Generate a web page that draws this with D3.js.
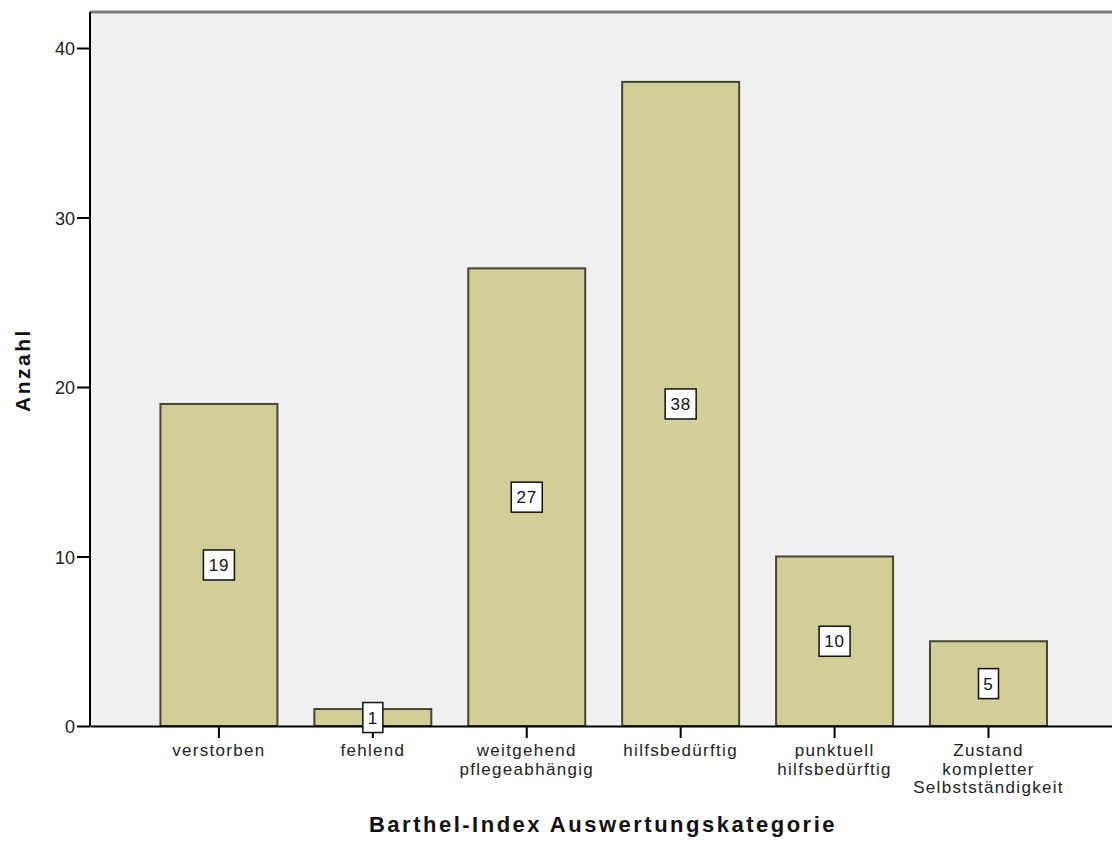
<!DOCTYPE html>
<html>
<head>
<meta charset="utf-8">
<script src="https://cdn.jsdelivr.net/npm/d3@7/dist/d3.min.js"></script>
<style>
  html, body { margin: 0; padding: 0; background: #fff; }
  text { font-family: Arial, "Liberation Sans", sans-serif; }
</style>
</head>
<body>
<svg id="chart" width="1112" height="841"></svg>
<script>
// Barthel-Index categories (line breaks as shown under the axis)
const categories = [
  ["verstorben"],
  ["fehlend"],
  ["weitgehend", "pflegeabhängig"],
  ["hilfsbedürftig"],
  ["punktuell", "hilfsbedürftig"],
  ["Zustand", "kompletter", "Selbstständigkeit"]
];
const counts = [19, 1, 27, 38, 10, 5];
const yTicks = [0, 10, 20, 30, 40];

const svg = d3.select("#chart");
const plot = { left: 90, right: 1112, top: 12, bottom: 726 };

const keys = categories.map(c => c.join(" "));

const x = d3.scaleBand()
  .domain(keys)
  .range([plot.left, plot.right])
  .paddingInner(0.24)
  .paddingOuter(0.44)
  .align(0.52);

const y = d3.scaleLinear()
  .domain([0, 40])
  .range([plot.bottom, 48]);

// plot background
svg.append("rect")
  .attr("x", plot.left).attr("y", plot.top)
  .attr("width", plot.right - plot.left).attr("height", plot.bottom - plot.top)
  .attr("fill", "#f0f0f0");

// top frame line
svg.append("line")
  .attr("x1", plot.left).attr("x2", plot.right)
  .attr("y1", plot.top).attr("y2", plot.top)
  .attr("stroke", "#7a7a7a").attr("stroke-width", 3);

// bars
svg.append("g").selectAll("rect")
  .data(counts)
  .join("rect")
  .attr("x", (d, i) => x(keys[i]))
  .attr("width", x.bandwidth())
  .attr("y", d => y(d))
  .attr("height", d => y(0) - y(d))
  .attr("fill", "#d3cd97")
  .attr("stroke", "#46452f")
  .attr("stroke-width", 2);

// y axis
const yAxis = svg.append("g")
  .attr("transform", `translate(${plot.left},0)`)
  .call(d3.axisLeft(y).tickValues(yTicks).tickSize(13).tickSizeOuter(0).tickPadding(2));
yAxis.select(".domain").attr("stroke", "#000").attr("stroke-width", 2)
  .attr("d", `M0,${plot.top}V${plot.bottom}`);
yAxis.selectAll(".tick line").attr("stroke", "#000").attr("stroke-width", 2);
yAxis.selectAll(".tick text")
  .attr("font-size", 18).attr("fill", "#222")
  .attr("dy", "0.38em")
  .attr("font-family", "Arial, 'Liberation Sans', sans-serif");

// x axis
const xAxis = svg.append("g")
  .attr("transform", `translate(0,${plot.bottom})`)
  .call(d3.axisBottom(x).tickSize(12).tickSizeOuter(0).tickFormat(""));
xAxis.select(".domain").attr("stroke", "#000").attr("stroke-width", 2);
xAxis.selectAll(".tick line").attr("stroke", "#000").attr("stroke-width", 2);

// multi-line category labels
const xl = svg.append("g");
categories.forEach((lines, i) => {
  const cx = x(keys[i]) + x.bandwidth() / 2;
  const t = xl.append("text")
    .attr("x", cx)
    .attr("y", 756)
    .attr("text-anchor", "middle")
    .attr("font-size", 17)
    .attr("letter-spacing", 1.3)
    .attr("fill", "#222");
  lines.forEach((ln, j) => {
    t.append("tspan")
      .attr("x", cx)
      .attr("dy", j === 0 ? 0 : 18.5)
      .text(ln);
  });
});

// value labels in boxes at mid-height of each bar
const lab = svg.append("g");
counts.forEach((v, i) => {
  const cx = x(keys[i]) + x.bandwidth() / 2;
  const cy = y(v / 2);
  const txt = String(v);
  const bw = txt.length === 1 ? 20 : 31;
  const bh = 30;
  lab.append("rect")
    .attr("x", cx - bw / 2).attr("y", cy - bh / 2)
    .attr("width", bw).attr("height", bh)
    .attr("fill", "#fff").attr("stroke", "#111").attr("stroke-width", 1.5);
  lab.append("text")
    .attr("x", cx).attr("y", cy + 6)
    .attr("text-anchor", "middle")
    .attr("font-size", 17)
    .attr("letter-spacing", 0.8)
    .attr("fill", "#111")
    .text(txt);
});

// axis titles
svg.append("text")
  .attr("x", 603)
  .attr("y", 832)
  .attr("text-anchor", "middle")
  .attr("font-size", 22).attr("font-weight", "bold")
  .attr("letter-spacing", 2.5)
  .attr("fill", "#111")
  .text("Barthel-Index Auswertungskategorie");

svg.append("text")
  .attr("transform", `translate(30,370) rotate(-90)`)
  .attr("text-anchor", "middle")
  .attr("font-size", 21).attr("font-weight", "bold")
  .attr("letter-spacing", 2.5)
  .attr("fill", "#111")
  .text("Anzahl");
</script>
</body>
</html>
